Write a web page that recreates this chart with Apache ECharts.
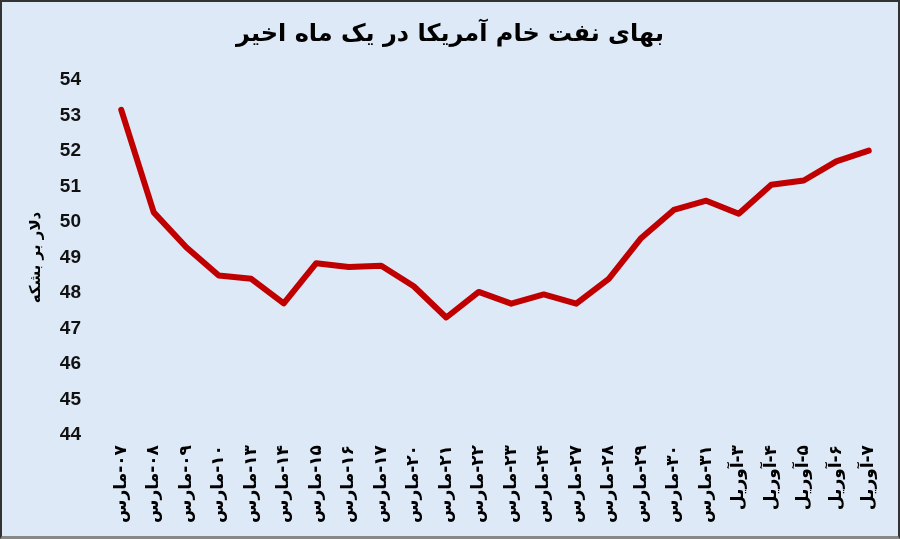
<!DOCTYPE html>
<html>
<head>
<meta charset="utf-8">
<script src="https://cdn.jsdelivr.net/npm/echarts@6/dist/echarts.min.js"></script>
<style>
html,body{margin:0;padding:0;background:#fff;}
#frame{width:900px;height:539px;box-sizing:border-box;border:2px solid #333;border-bottom:3px solid #888;background:#dde9f6;}
#chart{width:100%;height:100%;}
</style>
</head>
<body>
<div id="frame"><div id="chart"></div></div>
<script>
// تاریخ ها
var days = ['۰۷','۰۸','۰۹','۱۰','۱۳','۱۴','۱۵','۱۶','۱۷','۲۰','۲۱','۲۲','۲۳','۲۴','۲۷','۲۸','۲۹','۳۰','۳۱','۳','۴','۵','۶','۷'];
var months = ['مارس','مارس','مارس','مارس','مارس','مارس','مارس','مارس','مارس','مارس','مارس','مارس','مارس','مارس','مارس','مارس','مارس','مارس','مارس','آوریل','آوریل','آوریل','آوریل','آوریل'];
// قیمت (دلار بر بشکه)
var prices = [53.16,50.27,49.29,48.49,48.40,47.71,48.84,48.73,48.77,48.19,47.31,48.03,47.70,47.96,47.70,48.40,49.55,50.34,50.60,50.23,51.05,51.17,51.71,52.01];
var yTicks = [44,54,1];

var categories = [];
for (var i = 0; i < days.length; i++) {
  categories.push(months[i] + '\u200E-' + days[i]);
}

var chart = echarts.init(document.getElementById('chart'));
chart.setOption({
  backgroundColor: 'transparent',
  animation: false,
  title: {
    text: 'بهای نفت خام آمریکا در یک ماه اخیر',
    left: 'center',
    top: 16,
    textStyle: {fontFamily: 'DejaVu Sans', fontWeight: 'bold', fontSize: 24, color: '#000'}
  },
  grid: {left: 103, right: 13, top: 78, bottom: 101},
  xAxis: {
    type: 'category',
    data: categories,
    boundaryGap: true,
    axisLine: {show: false},
    axisTick: {show: false},
    axisLabel: {
      rotate: 90,
      interval: 0,
      margin: 10,
      fontFamily: 'DejaVu Sans',
      fontWeight: 'bold',
      fontSize: 17,
      color: '#000'
    }
  },
  yAxis: {
    type: 'value',
    min: yTicks[0],
    max: yTicks[1],
    interval: yTicks[2],
    name: 'دلار بر بشکه',
    nameLocation: 'middle',
    nameGap: 61,
    nameRotate: 90,
    nameTextStyle: {fontFamily: 'DejaVu Sans', fontWeight: 'bold', fontSize: 15, color: '#000'},
    axisLine: {show: false},
    axisTick: {show: false},
    splitLine: {show: false},
    axisLabel: {
      margin: 24,
      fontFamily: 'Liberation Sans',
      fontWeight: 'bold',
      fontSize: 19,
      color: '#111'
    }
  },
  series: [{
    type: 'line',
    data: prices,
    showSymbol: false,
    lineStyle: {color: '#c00000', width: 6, cap: 'round', join: 'round'},
    itemStyle: {color: '#c00000'}
  }]
});
</script>
</body>
</html>
